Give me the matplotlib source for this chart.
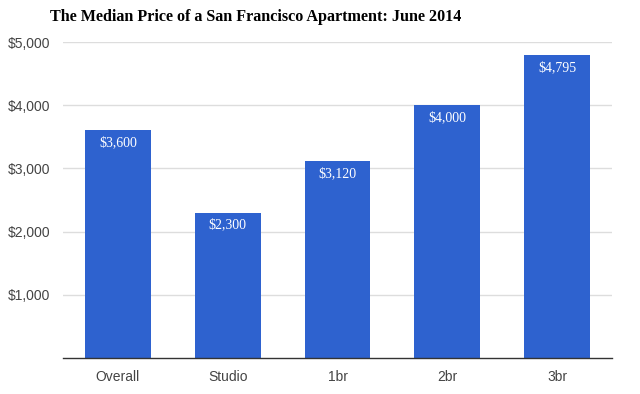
import matplotlib.pyplot as plt
from matplotlib.ticker import FuncFormatter

categories = ["Overall", "Studio", "1br", "2br", "3br"]
prices = [3600, 2300, 3120, 4000, 4795]
price_labels = ["$3,600", "$2,300", "$3,120", "$4,000", "$4,795"]
y_ticks = [1000, 2000, 3000, 4000, 5000]

fig = plt.figure(figsize=(6.4, 3.94), dpi=100)
ax = fig.add_axes([0.0984, 0.0914, 0.858, 0.802])

bars = ax.bar(range(len(categories)), prices, width=0.6, color="#2e62cf", zorder=3)

for b, lab in zip(bars, price_labels):
    ax.annotate(lab, (b.get_x() + b.get_width() / 2, b.get_height()),
                xytext=(0, -9), textcoords="offset points", ha="center", va="center",
                color="white", fontsize=10, family="Liberation Serif", zorder=4)

ax.set_xlim(-0.5, 4.5)
ax.set_ylim(0, 5000)
ax.set_yticks(y_ticks)
ax.yaxis.set_major_formatter(FuncFormatter(lambda v, p: "${:,.0f}".format(v)))
ax.set_xticks(range(len(categories)))
ax.set_xticklabels(categories)
ax.tick_params(length=0, labelsize=10, labelcolor="#444444", pad=9)
for t in ax.get_xticklabels() + ax.get_yticklabels():
    t.set_family("Liberation Sans")

ax.grid(axis="y", color="#dddddd", linewidth=1, zorder=0)
for s in ["top", "right", "left"]:
    ax.spines[s].set_visible(False)
ax.spines["bottom"].set_color("#333333")
ax.spines["bottom"].set_linewidth(1)
ax.spines["bottom"].set_zorder(5)

fig.text(50 / 640, 1 - 17 / 394, "The Median Price of a San Francisco Apartment: June 2014",
         ha="left", va="center", fontsize=11.6, fontweight="bold", family="Liberation Serif")

fig.savefig("out.png", dpi=100)
